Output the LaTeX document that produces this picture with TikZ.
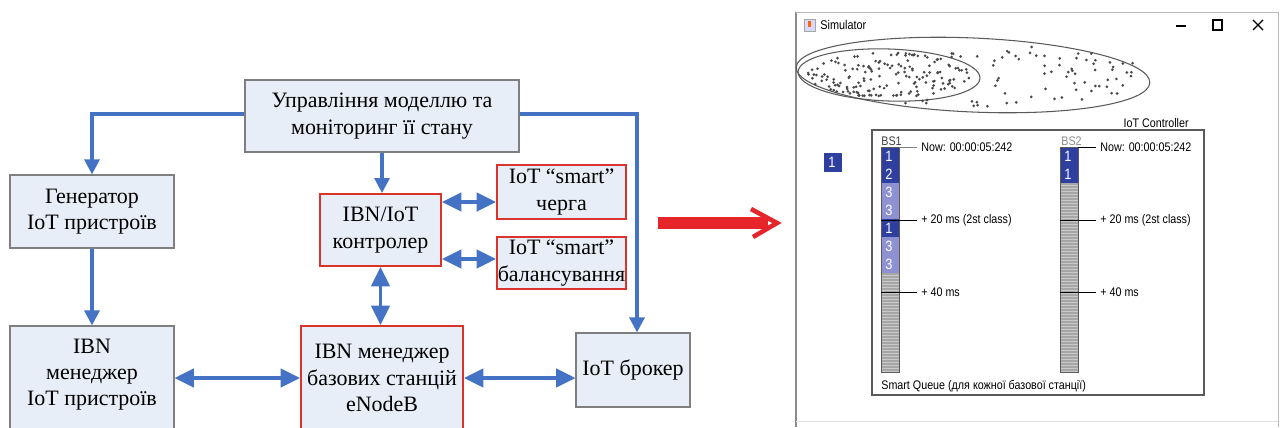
\documentclass[tikz,border=0pt]{standalone}
\usepackage{fontspec}
\setmainfont{Liberation Serif}
\setsansfont{Liberation Sans}
\newfontfamily\simfont[FakeStretch=0.86]{Liberation Sans}
\usetikzlibrary{arrows.meta,calc}
\definecolor{bblue}{HTML}{4472C4}
\definecolor{boxfill}{HTML}{E8EEF7}
\definecolor{boxline}{HTML}{7F7F7F}
\definecolor{rline}{HTML}{D9342B}
\definecolor{rarrow}{HTML}{E5252A}
\definecolor{qdark}{HTML}{2F3FA0}
\definecolor{qlight}{HTML}{8E91D2}
\definecolor{qgray}{HTML}{A6A6A6}
\definecolor{qstripe}{HTML}{C9C9C9}
\definecolor{dotc}{HTML}{4A4A4A}
\definecolor{winline}{HTML}{8A8A8A}
\definecolor{panel}{HTML}{5A5A5A}
\begin{document}
\begin{tikzpicture}[x=0.02cm,y=-0.02cm,
  box/.style={draw=boxline, line width=0.7pt, fill=boxfill, align=center,
    font=\fontsize{12.5}{15}\selectfont, inner sep=0pt},
  rbox/.style={box, draw=rline, line width=1.2pt},
  flow/.style={draw=bblue, line width=1.8pt, -{Triangle[length=8.5pt,width=8.5pt]}},
  both/.style={draw=bblue, line width=1.8pt,
    {Triangle[length=11pt,width=10.5pt]}-{Triangle[length=11pt,width=10.5pt]}},
  simtxt/.style={inner sep=0pt, font=\simfont\fontsize{7.1}{8}\selectfont},
  celltxt/.style={inner sep=0pt, text=white, font=\simfont\fontsize{8.5}{9}\selectfont},
  tick/.style={line width=0.5pt},
]
\useasboundingbox (0,0) rectangle (1280,427);
\clip (0,0) rectangle (1280,427);
\fill[white] (0,0) rectangle (1280,427);

% ---------------- left block diagram ----------------
\node[box, minimum width=5.48cm, minimum height=1.44cm] (top) at (382,116)
  {Управління моделлю та\\моніторинг її стану};
\node[box, minimum width=3.28cm, minimum height=1.46cm] (gen) at (92,211.5)
  {Генератор\\IoT пристроїв};
\node[box, minimum width=3.28cm, minimum height=2.08cm] (mgr) at (92,378)
  {IBN\\менеджер\\IoT пристроїв\\[-13pt]\strut};
\node[rbox, minimum width=2.42cm, minimum height=1.44cm] (ctrl) at (380.5,230)
  {IBN/IoT\\контролер};
\node[rbox, minimum width=2.58cm, minimum height=1.08cm] (q) at (561.5,192)
  {IoT “smart”\\черга};
\node[rbox, minimum width=2.58cm, minimum height=1.04cm] (bal) at (561.5,263)
  {IoT “smart”\\балансування};
\node[rbox, minimum width=3.24cm, minimum height=2.08cm] (bs) at (382,378)
  {IBN менеджер\\базових станцій\\eNodeB};
\node[box, minimum width=2.28cm, minimum height=1.48cm] (brk) at (633,370)
  {IoT брокер};

\draw[flow] ([yshift=0.04cm]top.west) -| (gen.north);
\draw[flow] ([yshift=0.04cm]top.east) -| ([xshift=0.08cm]brk.north);
\draw[flow] (top.south) -- (top.south |- ctrl.north);
\draw[flow] (gen.south) -- (mgr.north);
\draw[both] (ctrl.south) -- (ctrl.south |- bs.north);
\draw[both] ([yshift=0.56cm]ctrl.east) -- ([yshift=0.56cm]ctrl.east -| q.west);
\draw[both] ([yshift=-0.58cm]ctrl.east) -- ([yshift=-0.58cm]ctrl.east -| bal.west);
\draw[both] (mgr.east) -- (bs.west);
\draw[both] (bs.east) -- (bs.east -| brk.west);

% ---------------- red arrow ----------------
\coordinate (ra1) at (658,223);
\coordinate (ra2) at (768,223);
\coordinate (rtip) at (777,223);
\draw[rarrow, line width=6.8pt] (ra1) -- (ra2);
\draw[rarrow, line width=2.6pt, line join=miter] (751,209) -- (rtip) -- (753,237);

% ---------------- simulator window ----------------
\draw[winline, line width=1.5pt] (796,12) -- (796,427);
\draw[gray!55, line width=0.5pt] (796,12) -- (1278,12) -- (1278,427);
\draw[gray!25, line width=0.5pt] (796,421) -- (1278,421);
\draw[gray!70, fill=blue!15, line width=0.4pt] (804,19) rectangle (815,31);
\fill[orange!80!red] (808,21) rectangle (811,27);
\node[simtxt, anchor=west, font=\simfont\fontsize{7.2}{8}\selectfont] (title) at (820,25) {Simulator};
\draw[line width=0.7pt] (1176,26) -- (1186,26);
\draw[line width=0.7pt] (1213,20) rectangle (1222,30);
\draw[line width=0.7pt] (1253,20) -- (1263,30) (1253,30) -- (1263,20);

% ellipses with devices
\draw[panel, line width=0.6pt, rotate around={-2.5:(973,75)}] (973,75) ellipse [x radius=177, y radius=37];
\draw[panel, line width=0.6pt, rotate around={-2:(889,75)}] (889,75) ellipse [x radius=91, y radius=26];
\pgfmathsetseed{12}
\foreach \i in {1,...,160}{
  \pgfmathsetmacro\ang{360*rnd}
  \pgfmathsetmacro\rad{sqrt(rnd)*0.93}
  \fill[dotc] ({889+88*\rad*cos(\ang)},{75+24*\rad*sin(\ang)}) circle (0.85pt);
}
\foreach \i in {1,...,60}{
  \pgfmathsetmacro\px{985+150*rnd}
  \pgfmathsetmacro\h{32*sqrt(max(0,1-((\px-973)/177)^2))}
  \pgfmathsetmacro\py{76+\h*(2*rnd-1)}
  \fill[dotc] (\px,\py) circle (0.85pt);
}
\foreach \i in {1,...,8}{
  \pgfmathsetmacro\px{905+75*rnd}
  \pgfmathsetmacro\py{52+5*rnd}
  \fill[dotc] (\px,\py) circle (0.85pt);
  \pgfmathsetmacro\qx{905+75*rnd}
  \pgfmathsetmacro\qy{100+6*rnd}
  \fill[dotc] (\qx,\qy) circle (0.85pt);
}

% IoT controller panel
\draw[panel, line width=0.6pt] (872,130) rectangle (1204,395);
\node[simtxt, anchor=base east] (ctrltitle) at (1189,127.5) {IoT Controller};
\fill[qdark] (824,153) rectangle (842,172);
\node[celltxt] (one) at (832,162.5) {1};

% BS1 queue
\node[simtxt, anchor=base west, text=black!75] (bs1) at (881,145) {BS1};
\foreach \y/\n/\c in {147/1/qdark,165/2/qdark,183/3/qlight,201/3/qlight,219/1/qdark,237/3/qlight,255/3/qlight}{
  \fill[\c] (881,\y) rectangle (899,\y+18);
  \node[celltxt] at (889,\y+9.5) {\n};
}
\fill[qgray] (881,273) rectangle (899,372);
\foreach \s in {275,278,...,371} \draw[qstripe, line width=0.3pt] (881,\s) -- (899,\s);
\draw[panel, line width=0.5pt] (881,147) rectangle (899,372);

% BS2 queue
\node[simtxt, anchor=base west, text=black!45] (bs2) at (1061,145) {BS2};
\foreach \y in {147,165}{
  \fill[qdark] (1060,\y) rectangle (1078,\y+18);
  \node[celltxt] at (1068,\y+9.5) {1};
}
\fill[qgray] (1060,183) rectangle (1078,372);
\foreach \s in {185,188,...,371} \draw[qstripe, line width=0.3pt] (1060,\s) -- (1078,\s);
\draw[panel, line width=0.5pt] (1060,147) rectangle (1078,372);

% time marks BS1
\draw[tick, gray] (899,147) -- (917,147);
\node[simtxt, anchor=west] (n1) at (921,147.5) {Now: 00:00:05:242};
\draw[tick] (881,220) -- (917,220);
\node[simtxt, anchor=west] (t1) at (921,220) {+ 20 ms (2st class)};
\draw[tick] (881,292) -- (917,292);
\node[simtxt, anchor=west] (f1) at (921,292) {+ 40 ms};

% time marks BS2
\draw[tick] (1078,147) -- (1096,147);
\node[simtxt, anchor=west] (n2) at (1100,147.5) {Now: 00:00:05:242};
\draw[tick] (1060,220) -- (1096,220);
\node[simtxt, anchor=west] (t2) at (1100,220) {+ 20 ms (2st class)};
\draw[tick] (1060,292) -- (1096,292);
\node[simtxt, anchor=west] (f2) at (1100,292) {+ 40 ms};

\node[simtxt, anchor=west] (sq) at (881,386.5) {Smart Queue (для кожної базової станції)};
\end{tikzpicture}
\end{document}
